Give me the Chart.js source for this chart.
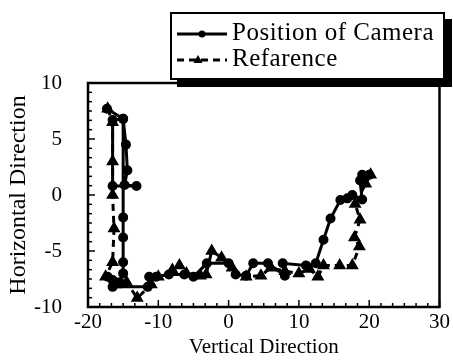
<!DOCTYPE html>
<html>
<head>
<meta charset="utf-8">
<script src="https://cdn.jsdelivr.net/npm/chart.js@4/dist/chart.umd.min.js"></script>
<style>
  body { margin: 0; background: #fff; }
  #wrap { position: relative; width: 453px; height: 360px; }
  #grafico { position: absolute; left: 0; top: 0; }
  #legenda {
    position: absolute; left: 170px; top: 12px; width: 275px; height: 68px;
    border: 2px solid #000; box-shadow: 7px 7px 0 #000; background: #fff;
    box-sizing: border-box; font-family: 'Liberation Serif', serif; font-size: 25px;
    color: #000; letter-spacing: 0.5px;
  }
  .linha { position: absolute; left: 4px; height: 26px; line-height: 26px; white-space: nowrap; }
  .linha svg { vertical-align: middle; margin-right: 4px; }
</style>
</head>
<body>
<div id="wrap">
  <canvas id="grafico" width="453" height="360"></canvas>
  <div id="legenda">
    <div class="linha" style="top:5px">
      <svg width="52" height="14"><line x1="1" y1="7" x2="51" y2="7" stroke="#000" stroke-width="3"/><circle cx="26" cy="7" r="3.5" fill="#000"/></svg>Position of Camera
    </div>
    <div class="linha" style="top:31px">
      <svg width="52" height="14"><line x1="1" y1="7" x2="51" y2="7" stroke="#000" stroke-width="3" stroke-dasharray="7 5"/><polygon points="22,2 26.5,10 17.5,10" fill="#000"/></svg>Refarence
    </div>
  </div>
</div>
<script>
var ctx = document.getElementById('grafico').getContext('2d');

// Dados
var camX = [-17.3, -15, -14.6, -14.4, -14.8, -13.1, -16.5, -16.5, -15, -15, -15, -15, -15, -15.5, -16.5, -17.2, -16.5, -11.5, -11.3, -10.3, -8.5, -6.3, -5, -3.1, 0, 1, 2.5, 3.5, 5.6, 8, 7.7, 11, 12.4, 13.5, 14.5, 15.9, 16.9, 17.6, 19, 18.7, 19, 20];
var camY = [7.7, 6.8, 4.5, 2.2, 0.9, 0.8, 0.8, 6.7, 6.8, -2, -3.8, -6, -7, -7.8, -7.6, -7.3, -8.2, -8.2, -7.3, -7.3, -7.1, -7.1, -7.3, -6.1, -6.1, -7.1, -7.2, -6.1, -6.1, -7.2, -6.1, -6.3, -6.1, -4, -2.1, -0.45, -0.3, 0, -0.4, 1.3, 1.8, 1.8];
var refX = [-17.2, -16.5, -16.5, -16.5, -16.3, -16.5, -17.5, -16, -14.5, -13, -11, -10, -8, -7, -6, -4, -3.2, -2.4, -1, 0.5, 2.5, 4.6, 6, 8, 10, 11.5, 12.7, 13.5, 15.8, 17.6, 18.6, 17.9, 18.7, 18, 19.5, 20.2];
var refY = [7.7, 6.5, 3, 0, -3, -6, -7.3, -8, -7.8, -9.2, -8, -7.3, -6.7, -6.3, -7, -7.2, -7.1, -5, -5.6, -6.5, -7.3, -7.2, -6.5, -6.8, -7, -6.6, -7.3, -6.3, -6.3, -6.3, -4.6, -3.8, -2.2, -0.8, 1, 1.8];
var xTicks = [-20, -10, 0, 10, 20, 30];
var yTicks = [-10, -5, 0, 5, 10];

function pares(xs, ys) {
  return xs.map(function(x, i) { return { x: x, y: ys[i] }; });
}

var fonte = 'Liberation Serif';

// moldura e marcas internas
var moldura = {
  id: 'moldura',
  afterDraw: function(chart) {
    var c = chart.ctx, a = chart.chartArea;
    var sx = chart.scales.x, sy = chart.scales.y;
    c.save();
    c.strokeStyle = '#000';
    c.lineWidth = 1.5;
    for (var i = 0; i <= 30; i++) {
      var v = -20 + i * 10 / 6;
      var px = sx.getPixelForValue(v);
      var len = (i % 6 === 0) ? 7 : 4;
      c.beginPath(); c.moveTo(px, a.bottom); c.lineTo(px, a.bottom - len); c.stroke();
    }
    for (var j = 0; j <= 24; j++) {
      var w = -10 + j * 5 / 6;
      var py = sy.getPixelForValue(w);
      var len2 = (j % 6 === 0) ? 7 : 4;
      c.beginPath(); c.moveTo(a.left, py); c.lineTo(a.left + len2, py); c.stroke();
    }
    c.lineWidth = 2.5;
    c.strokeRect(a.left, a.top, a.right - a.left, a.bottom - a.top);
    c.restore();
  }
};

var data = {
  datasets: [{
    label: 'Position of Camera',
    data: pares(camX, camY),
    showLine: true,
    borderColor: '#000',
    backgroundColor: '#000',
    borderWidth: 3,
    pointStyle: 'circle',
    pointRadius: 3.5,
    tension: 0
  }, {
    label: 'Refarence',
    data: pares(refX, refY),
    showLine: true,
    borderColor: '#000',
    backgroundColor: '#000',
    borderWidth: 3,
    borderDash: [7, 5],
    pointStyle: 'triangle',
    pointRadius: 4.5,
    tension: 0
  }]
};

var options = {
  responsive: false,
  animation: false,
  layout: { padding: { top: 83, right: 10, left: 0, bottom: 0 } },
  scales: {
    x: {
      type: 'linear', min: -20, max: 30,
      afterBuildTicks: function(s) { s.ticks = xTicks.map(function(v) { return { value: v }; }); },
      afterFit: function(s) { s.height = 53; },
      grid: { display: false, drawTicks: false },
      border: { display: false },
      ticks: { color: '#000', padding: 3, font: { family: fonte, size: 21 } },
      title: { display: true, text: 'Vertical Direction', color: '#000', padding: 0, font: { family: fonte, size: 21 } }
    },
    y: {
      type: 'linear', min: -10, max: 10,
      afterBuildTicks: function(s) { s.ticks = yTicks.map(function(v) { return { value: v }; }); },
      afterFit: function(s) { s.width = 88; },
      grid: { display: false, drawTicks: false },
      border: { display: false },
      ticks: { color: '#000', padding: 26, font: { family: fonte, size: 21 } },
      title: { display: true, text: 'Horizontal Direction', color: '#000', padding: { top: 4, bottom: 0 }, font: { family: fonte, size: 24 } }
    }
  },
  plugins: {
    legend: { display: false },
    tooltip: { enabled: false }
  }
};

var meuGrafico = new Chart(ctx, {
  type: 'scatter',
  data: data,
  options: options,
  plugins: [moldura]
});
</script>
</body>
</html>
